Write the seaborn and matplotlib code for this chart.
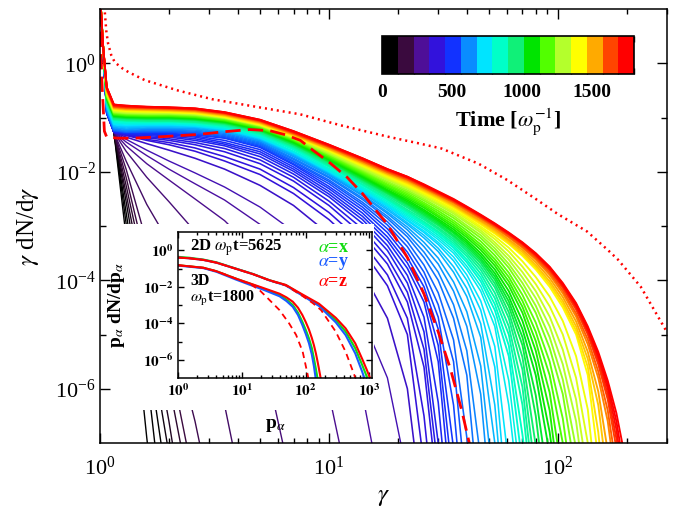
import numpy as np
import pandas as pd
import matplotlib
matplotlib.use('Agg')
import matplotlib.pyplot as plt
import seaborn as sns
from matplotlib.colors import ListedColormap, LinearSegmentedColormap, BoundaryNorm
from matplotlib.cm import ScalarMappable
from matplotlib.patches import Rectangle
from matplotlib.ticker import (LogLocator, FixedLocator, NullFormatter,
                               LogFormatterSciNotation, FuncFormatter)

# ===== STYLE =====
sns.set_theme(style="ticks")
plt.rcParams.update({
    "font.family": ["Liberation Serif", "DejaVu Serif"],
    "mathtext.fontset": "stix",
    "axes.edgecolor": "black",
    "axes.linewidth": 1.1,
    "xtick.color": "black",
    "ytick.color": "black",
    "text.color": "black",
    "axes.labelcolor": "black",
})

# ===== DATA (log10 of gamma dN/dgamma) =====
time_max = 1800
gamma_grid = [1.0, 1.03, 1.07, 1.15, 1.3, 1.6, 2.0, 2.6, 3.5, 5, 7, 10, 14, 18, 22, 26,
              30, 35, 40, 46, 53, 61, 70, 80, 92, 105, 120, 135, 150, 165, 180, 195]

early_times = [0, 30, 60, 90, 120, 145, 170, 195, 220, 245, 270, 300, 330]
early_logf = [
    [1.3, 0.2, -0.85, -1.27, -3.2, -6.9, -10.5],
    [1.3, 0.2, -0.85, -1.27, -2.95, -5.7, -9.3],
    [1.3, 0.2, -0.85, -1.27, -2.75, -5.2, -8.0],
    [1.3, 0.2, -0.85, -1.27, -2.55, -4.75, -7.2],
    [1.3, 0.2, -0.85, -1.27, -2.4, -4.35, -6.6, -9.6],
    [1.3, 0.2, -0.85, -1.27, -2.25, -4.0, -5.9, -8.4],
    [1.3, 0.2, -0.85, -1.27, -2.1, -3.7, -5.4, -7.8],
    [1.3, 0.2, -0.85, -1.27, -1.95, -3.3, -4.7, -6.6, -9.2],
    [1.3, 0.2, -0.85, -1.27, -1.8, -2.6, -3.3, -4.3, -6.3, -9.5],
    [1.3, 0.2, -0.85, -1.27, -1.62, -2.1, -2.55, -3.1, -3.85, -5.1, -7.9],
    [1.3, 0.2, -0.85, -1.27, -1.52, -1.85, -2.15, -2.5, -2.9, -3.55, -4.45, -6.1, -9.0],
    [1.3, 0.2, -0.85, -1.27, -1.45, -1.7, -1.95, -2.22, -2.52, -2.97, -3.55, -4.45, -6.1, -8.5],
    [1.3, 0.2, -0.85, -1.27, -1.4, -1.6, -1.8, -2.02, -2.28, -2.65, -3.1, -3.75, -4.7, -5.8, -7.6],
]

mid_times = [360, 390, 405, 420, 435, 450, 465, 480, 495, 510, 530, 550, 570, 590, 610,
             630, 650, 670, 692, 715, 737, 760, 790]
mid_logf = [
    [1.3, 0.3, -0.92, -1.27, -1.36, -1.48, -1.6, -1.75, -1.95, -2.25, -2.62, -3.15, -3.85, -4.7, -6.0, -8.5],
    [1.3, 0.3, -0.92, -1.27, -1.33, -1.42, -1.5, -1.62, -1.8, -2.05, -2.4, -2.88, -3.45, -4.1, -5.0, -7.4],
    [1.3, 0.3, -0.92, -1.27, -1.32, -1.4, -1.46, -1.56, -1.72, -1.95, -2.29, -2.75, -3.3, -3.9, -4.7, -6.5, -9.0],
    [1.3, 0.3, -0.92, -1.27, -1.31, -1.37, -1.42, -1.5, -1.63, -1.85, -2.17, -2.62, -3.15, -3.7, -4.4, -5.6, -8.0],
    [1.3, 0.3, -0.92, -1.27, -1.3, -1.35, -1.39, -1.46, -1.57, -1.78, -2.1, -2.54, -3.05, -3.58, -4.22, -5.27, -7.5],
    [1.3, 0.3, -0.91, -1.26, -1.3, -1.33, -1.36, -1.42, -1.52, -1.72, -2.04, -2.46, -2.95, -3.45, -4.05, -4.95, -7.0, -10.0],
    [1.3, 0.3, -0.9, -1.25, -1.29, -1.31, -1.34, -1.39, -1.49, -1.67, -1.99, -2.41, -2.88, -3.36, -3.91, -4.68, -6.25, -9.2],
    [1.3, 0.3, -0.9, -1.25, -1.29, -1.3, -1.32, -1.36, -1.46, -1.63, -1.95, -2.36, -2.82, -3.27, -3.78, -4.4, -5.5, -8.5],
    [1.3, 0.3, -0.9, -1.25, -1.28, -1.29, -1.3, -1.34, -1.42, -1.59, -1.91, -2.31, -2.76, -3.2, -3.68, -4.26, -5.2, -7.8],
    [1.3, 0.3, -0.9, -1.25, -1.28, -1.28, -1.29, -1.32, -1.38, -1.55, -1.87, -2.27, -2.7, -3.12, -3.58, -4.12, -4.9, -7.1, -10.0],
    [1.3, 0.3, -0.89, -1.24, -1.27, -1.27, -1.27, -1.3, -1.37, -1.53, -1.85, -2.22, -2.65, -3.05, -3.48, -3.98, -4.68, -6.3, -9.0],
    [1.3, 0.3, -0.89, -1.24, -1.27, -1.26, -1.26, -1.28, -1.35, -1.51, -1.82, -2.18, -2.6, -2.98, -3.38, -3.85, -4.45, -5.5, -8.0],
    [1.3, 0.3, -0.88, -1.23, -1.26, -1.25, -1.25, -1.27, -1.33, -1.49, -1.8, -2.15, -2.56, -2.92, -3.29, -3.72, -4.23, -5.1, -6.9, -9.5],
    [1.3, 0.3, -0.87, -1.22, -1.25, -1.23, -1.23, -1.25, -1.31, -1.47, -1.77, -2.11, -2.51, -2.86, -3.2, -3.58, -4.0, -4.7, -5.75, -8.5],
    [1.3, 0.3, -0.86, -1.21, -1.24, -1.22, -1.22, -1.23, -1.29, -1.45, -1.75, -2.09, -2.48, -2.82, -3.14, -3.48, -3.85, -4.45, -5.3, -7.3],
    [1.3, 0.3, -0.84, -1.19, -1.22, -1.2, -1.2, -1.21, -1.27, -1.43, -1.72, -2.06, -2.44, -2.77, -3.07, -3.38, -3.7, -4.2, -4.85, -6.1, -9.0],
    [1.3, 0.3, -0.83, -1.18, -1.21, -1.19, -1.19, -1.2, -1.26, -1.42, -1.7, -2.04, -2.42, -2.74, -3.02, -3.3, -3.59, -4.03, -4.58, -5.58, -8.0],
    [1.3, 0.3, -0.81, -1.16, -1.19, -1.17, -1.17, -1.18, -1.24, -1.4, -1.68, -2.02, -2.39, -2.7, -2.97, -3.22, -3.47, -3.85, -4.3, -5.05, -7.0, -10.0],
    [1.3, 0.3, -0.8, -1.15, -1.17, -1.16, -1.16, -1.17, -1.23, -1.39, -1.66, -2.01, -2.37, -2.67, -2.94, -3.17, -3.41, -3.75, -4.15, -4.8, -6.3, -9.2],
    [1.3, 0.3, -0.78, -1.13, -1.15, -1.14, -1.14, -1.16, -1.22, -1.38, -1.65, -2.0, -2.35, -2.64, -2.9, -3.12, -3.34, -3.64, -4.0, -4.55, -5.6, -8.5],
    [1.3, 0.3, -0.77, -1.12, -1.14, -1.13, -1.13, -1.15, -1.21, -1.37, -1.64, -1.99, -2.34, -2.62, -2.88, -3.09, -3.3, -3.57, -3.9, -4.38, -5.22, -7.4],
    [1.3, 0.3, -0.75, -1.1, -1.12, -1.12, -1.12, -1.14, -1.2, -1.36, -1.63, -1.98, -2.32, -2.6, -2.85, -3.05, -3.25, -3.5, -3.8, -4.2, -4.85, -6.3, -8.5],
    [1.3, 0.33, -0.75, -1.09, -1.11, -1.11, -1.11, -1.13, -1.19, -1.35, -1.62, -1.96, -2.3, -2.58, -2.82, -3.02, -3.21, -3.45, -3.74, -4.11, -4.7, -5.85, -7.95],
]

late_times = [820, 850, 880, 910, 940, 970, 1000, 1025, 1050, 1080, 1110, 1140, 1170, 1200,
              1230, 1260, 1290, 1320, 1350, 1380, 1410, 1445, 1480, 1520, 1560, 1600, 1640,
              1680, 1720, 1760, 1800]
late_logf = [
    [1.3, 0.35, -0.74, -1.07, -1.09, -1.09, -1.09, -1.11, -1.17, -1.33, -1.59, -1.94, -2.28, -2.55, -2.79, -2.98, -3.17, -3.40, -3.67, -4.02, -4.55, -5.4, -7.4],
    [1.3, 0.35, -0.72, -1.05, -1.07, -1.08, -1.08, -1.1, -1.16, -1.31, -1.57, -1.91, -2.25, -2.52, -2.76, -2.95, -3.13, -3.36, -3.62, -3.95, -4.44, -5.2, -6.85, -8.8],
    [1.3, 0.35, -0.71, -1.04, -1.06, -1.07, -1.07, -1.09, -1.15, -1.30, -1.55, -1.89, -2.23, -2.50, -2.73, -2.92, -3.10, -3.32, -3.56, -3.88, -4.33, -5.0, -6.3, -8.6],
    [1.3, 0.35, -0.7, -1.03, -1.05, -1.06, -1.06, -1.08, -1.13, -1.28, -1.53, -1.87, -2.2, -2.47, -2.7, -2.88, -3.06, -3.28, -3.51, -3.81, -4.23, -4.85, -5.97, -8.1],
    [1.3, 0.35, -0.69, -1.02, -1.04, -1.05, -1.05, -1.07, -1.12, -1.27, -1.52, -1.85, -2.18, -2.44, -2.66, -2.85, -3.03, -3.24, -3.46, -3.75, -4.13, -4.7, -5.65, -7.6],
    [1.3, 0.35, -0.67, -1.0, -1.02, -1.03, -1.03, -1.05, -1.11, -1.25, -1.5, -1.83, -2.16, -2.41, -2.63, -2.82, -2.99, -3.2, -3.42, -3.69, -4.06, -4.59, -5.42, -7.05, -9.0],
    [1.3, 0.35, -0.66, -0.99, -1.01, -1.02, -1.02, -1.04, -1.10, -1.24, -1.49, -1.81, -2.14, -2.39, -2.60, -2.79, -2.96, -3.17, -3.38, -3.64, -3.99, -4.48, -5.2, -6.5, -8.6],
    [1.3, 0.35, -0.65, -0.98, -1.0, -1.01, -1.01, -1.03, -1.09, -1.23, -1.47, -1.8, -2.12, -2.37, -2.58, -2.76, -2.93, -3.13, -3.34, -3.6, -3.93, -4.39, -5.05, -6.12, -7.9],
    [1.3, 0.35, -0.64, -0.97, -0.99, -1.00, -1.00, -1.02, -1.08, -1.22, -1.46, -1.78, -2.10, -2.35, -2.55, -2.73, -2.90, -3.10, -3.30, -3.55, -3.87, -4.30, -4.90, -5.75, -7.20],
    [1.3, 0.35, -0.63, -0.96, -0.98, -0.99, -0.99, -1.01, -1.07, -1.21, -1.45, -1.77, -2.08, -2.33, -2.52, -2.7, -2.87, -3.06, -3.26, -3.5, -3.8, -4.2, -4.75, -5.52, -6.8, -8.6],
    [1.3, 0.35, -0.62, -0.95, -0.97, -0.98, -0.98, -1.00, -1.06, -1.20, -1.43, -1.75, -2.06, -2.30, -2.49, -2.66, -2.83, -3.02, -3.21, -3.44, -3.73, -4.10, -4.60, -5.30, -6.40, -8.30],
    [1.3, 0.35, -0.61, -0.94, -0.96, -0.97, -0.97, -0.99, -1.05, -1.19, -1.42, -1.73, -2.04, -2.28, -2.46, -2.63, -2.8, -2.98, -3.17, -3.39, -3.67, -4.02, -4.49, -5.12, -6.07, -7.65],
    [1.3, 0.35, -0.60, -0.93, -0.95, -0.96, -0.96, -0.98, -1.04, -1.18, -1.41, -1.71, -2.02, -2.25, -2.43, -2.60, -2.76, -2.94, -3.13, -3.34, -3.61, -3.94, -4.38, -4.95, -5.75, -7.0, -9.0],
    [1.3, 0.35, -0.59, -0.92, -0.94, -0.95, -0.95, -0.97, -1.03, -1.17, -1.4, -1.7, -2.0, -2.23, -2.4, -2.57, -2.72, -2.9, -3.08, -3.28, -3.54, -3.86, -4.27, -4.78, -5.5, -6.55, -8.3],
    [1.3, 0.35, -0.58, -0.91, -0.93, -0.94, -0.94, -0.96, -1.02, -1.16, -1.39, -1.68, -1.98, -2.20, -2.37, -2.53, -2.68, -2.85, -3.03, -3.22, -3.47, -3.77, -4.15, -4.60, -5.25, -6.10, -7.60],
    [1.3, 0.35, -0.57, -0.9, -0.92, -0.93, -0.93, -0.95, -1.01, -1.15, -1.38, -1.67, -1.96, -2.18, -2.34, -2.5, -2.65, -2.81, -2.99, -3.17, -3.41, -3.7, -4.05, -4.47, -5.05, -5.83, -7.1, -8.6],
    [1.3, 0.35, -0.56, -0.89, -0.91, -0.92, -0.92, -0.94, -1.00, -1.14, -1.37, -1.65, -1.94, -2.15, -2.31, -2.47, -2.61, -2.77, -2.94, -3.12, -3.35, -3.62, -3.95, -4.33, -4.85, -5.55, -6.60, -8.20],
    [1.3, 0.35, -0.55, -0.88, -0.9, -0.91, -0.91, -0.93, -1.0, -1.14, -1.36, -1.64, -1.92, -2.13, -2.29, -2.45, -2.59, -2.74, -2.91, -3.08, -3.3, -3.55, -3.85, -4.2, -4.67, -5.28, -6.2, -7.6],
    [1.3, 0.35, -0.54, -0.87, -0.89, -0.90, -0.90, -0.92, -0.99, -1.13, -1.35, -1.62, -1.90, -2.11, -2.27, -2.42, -2.56, -2.71, -2.87, -3.04, -3.24, -3.47, -3.75, -4.07, -4.48, -5.00, -5.80, -7.00, -9.00],
    [1.3, 0.35, -0.53, -0.86, -0.88, -0.89, -0.9, -0.92, -0.99, -1.13, -1.35, -1.61, -1.89, -2.09, -2.25, -2.4, -2.54, -2.69, -2.84, -3.01, -3.19, -3.4, -3.65, -3.94, -4.3, -4.75, -5.4, -6.38, -8.15],
    [1.3, 0.35, -0.52, -0.85, -0.87, -0.88, -0.89, -0.91, -0.98, -1.12, -1.34, -1.60, -1.87, -2.07, -2.23, -2.38, -2.51, -2.66, -2.81, -2.97, -3.14, -3.33, -3.55, -3.80, -4.12, -4.50, -5.00, -5.75, -7.30],
    [1.3, 0.35, -0.51, -0.84, -0.86, -0.87, -0.88, -0.9, -0.97, -1.11, -1.33, -1.59, -1.86, -2.06, -2.21, -2.36, -2.49, -2.64, -2.79, -2.95, -3.12, -3.31, -3.52, -3.76, -4.07, -4.44, -4.93, -5.6, -6.8, -8.5],
    [1.3, 0.35, -0.50, -0.83, -0.85, -0.86, -0.87, -0.89, -0.96, -1.10, -1.32, -1.58, -1.84, -2.04, -2.19, -2.34, -2.47, -2.62, -2.77, -2.92, -3.09, -3.28, -3.48, -3.72, -4.02, -4.38, -4.85, -5.45, -6.30, -7.70],
    [1.3, 0.35, -0.49, -0.82, -0.84, -0.85, -0.86, -0.88, -0.95, -1.09, -1.31, -1.57, -1.83, -2.03, -2.17, -2.32, -2.45, -2.6, -2.75, -2.9, -3.06, -3.25, -3.44, -3.67, -3.96, -4.31, -4.76, -5.32, -6.05, -7.15, -8.5],
    [1.3, 0.35, -0.48, -0.81, -0.83, -0.84, -0.85, -0.87, -0.94, -1.08, -1.30, -1.55, -1.81, -2.01, -2.15, -2.30, -2.43, -2.57, -2.72, -2.87, -3.03, -3.21, -3.40, -3.62, -3.90, -4.24, -4.67, -5.18, -5.80, -6.60, -7.80],
    [1.3, 0.35, -0.47, -0.8, -0.82, -0.83, -0.84, -0.86, -0.93, -1.07, -1.29, -1.54, -1.8, -2.0, -2.14, -2.29, -2.42, -2.56, -2.7, -2.85, -3.01, -3.19, -3.38, -3.59, -3.86, -4.19, -4.61, -5.09, -5.68, -6.4, -7.45, -8.6],
    [1.3, 0.35, -0.46, -0.79, -0.81, -0.82, -0.83, -0.85, -0.92, -1.06, -1.28, -1.53, -1.78, -1.98, -2.12, -2.27, -2.40, -2.54, -2.68, -2.83, -2.99, -3.16, -3.35, -3.56, -3.82, -4.14, -4.54, -5.00, -5.55, -6.20, -7.10, -8.30],
    [1.3, 0.35, -0.45, -0.78, -0.8, -0.81, -0.82, -0.84, -0.91, -1.05, -1.27, -1.52, -1.77, -1.97, -2.11, -2.26, -2.39, -2.53, -2.67, -2.82, -2.98, -3.15, -3.33, -3.54, -3.8, -4.11, -4.5, -4.96, -5.48, -6.1, -6.92, -8.05],
    [1.3, 0.35, -0.45, -0.77, -0.79, -0.81, -0.82, -0.84, -0.91, -1.05, -1.26, -1.51, -1.76, -1.96, -2.10, -2.25, -2.38, -2.52, -2.66, -2.81, -2.97, -3.14, -3.32, -3.53, -3.78, -4.09, -4.47, -4.92, -5.42, -6.00, -6.75, -7.80],
    [1.3, 0.35, -0.44, -0.76, -0.78, -0.8, -0.81, -0.83, -0.9, -1.04, -1.25, -1.5, -1.75, -1.95, -2.09, -2.24, -2.37, -2.51, -2.65, -2.8, -2.96, -3.13, -3.31, -3.51, -3.76, -4.07, -4.44, -4.88, -5.37, -5.92, -6.6, -7.5],
    [1.3, 0.35, -0.44, -0.76, -0.78, -0.80, -0.81, -0.83, -0.90, -1.04, -1.25, -1.50, -1.75, -1.95, -2.09, -2.23, -2.36, -2.50, -2.64, -2.79, -2.95, -3.12, -3.30, -3.50, -3.75, -4.05, -4.42, -4.85, -5.32, -5.85, -6.45, -7.20],
]

dashed_gamma = [1.0, 1.017, 1.045, 1.07, 1.2, 1.4, 1.9, 2.7, 3.5, 4.5, 5.5, 6.5, 7.5, 8.5,
                10, 12, 14, 18, 22, 26, 30, 34, 38, 41, 43]
dashed_logf = [1.0, -0.25, -1.25, -1.36, -1.38, -1.38, -1.35, -1.31, -1.26, -1.22, -1.24, -1.32,
               -1.42, -1.6, -1.82, -2.1, -2.4, -2.97, -3.58, -4.25, -4.95, -5.65, -6.4, -7.0, -7.4]

dotted_gamma = [1.045, 1.065, 1.084, 1.12, 1.16, 1.25, 1.33, 1.57, 2.19, 3.08, 4.5, 7.5, 11.2,
                18, 25, 31, 45, 60, 80, 100, 134, 165, 183, 230, 296]
dotted_logf = [1.05, 0.6, 0.37, 0.15, 0.02, -0.09, -0.16, -0.31, -0.50, -0.66, -0.78, -0.94, -1.14,
               -1.35, -1.48, -1.57, -1.85, -2.15, -2.5, -2.78, -3.1, -3.44, -3.62, -4.12, -4.92]

# inset: momentum spectra p dN/dp (log10)
p2d = [1, 1.5, 2.5, 4, 8, 15, 27, 49, 89, 162, 297, 424, 600, 770, 910, 1050]
p2d_x = [-0.36, -0.41, -0.51, -0.66, -1.00, -1.30, -1.64, -1.91, -2.46, -3.00, -3.83, -4.46, -5.37, -6.28, -6.92, -7.60]
p2d_y = [-0.40, -0.44, -0.53, -0.68, -1.01, -1.31, -1.65, -1.93, -2.48, -3.05, -3.95, -4.65, -5.65, -6.65, -7.40]
p2d_z = [-0.40, -0.44, -0.53, -0.68, -1.01, -1.31, -1.64, -1.90, -2.42, -2.93, -3.70, -4.28, -5.10, -5.95, -6.55, -7.10]
p2d_dash = [1, 1.5, 2.5, 4, 8, 15, 27, 49, 89, 130, 175, 297, 424, 580, 640]
p2d_z_dash = [-0.40, -0.44, -0.53, -0.68, -1.01, -1.31, -1.65, -1.93, -2.50, -2.90, -3.28, -4.46, -5.56, -6.83, -7.40]

p3d = [1, 2.5, 4, 8, 14, 21, 30, 39, 50, 63, 76, 89, 101, 113, 125, 135, 145, 152, 160, 172, 186]
p3d_x = [-0.82, -0.96, -1.15, -1.55, -1.85, -2.09, -2.30, -2.46, -2.70, -3.00, -3.42, -3.92, -4.38, -4.83, -5.35, -5.92, -6.50, -6.92, -7.50]
p3d_y = [-0.84, -0.98, -1.18, -1.60, -1.92, -2.14, -2.36, -2.52, -2.78, -3.10, -3.55, -4.10, -4.60, -5.10, -5.70, -6.35, -7.10]
p3d_z = [-0.82, -0.96, -1.15, -1.55, -1.84, -2.05, -2.24, -2.38, -2.58, -2.82, -3.15, -3.55, -3.95, -4.35, -4.80, -5.20, -5.65, -6.00, -6.40, -7.00, -7.60]
p3d_dash = [1, 2.5, 4, 8, 14, 19, 25, 39, 55, 71, 90, 108, 115]
p3d_z_dash = [-0.82, -0.96, -1.15, -1.55, -1.88, -2.19, -2.60, -3.28, -4.00, -4.64, -5.56, -6.83, -7.40]

# ===== COLOURS =====
cb_colors = ['#000000', '#3a0a3e', '#4e0f98', '#3212dc', '#1232ff', '#0a8cff', '#00e4ff', '#00ffc8',
             '#10f078', '#00e400', '#52ff00', '#b4ff2c', '#ffff00', '#ffaa00', '#ff4400', '#ff0000']
n_bins = len(cb_colors)
anchor_pos = [0.0] + [(k + 0.5) / n_bins for k in range(n_bins)] + [1.0]
anchor_col = [cb_colors[0]] + cb_colors + [cb_colors[-1]]
line_cmap = LinearSegmentedColormap.from_list('idl_rainbow', list(zip(anchor_pos, anchor_col)))
col_x, col_y, col_z = '#10dd10', '#1a5cff', '#ff0000'


def spectra_frame(times, rows):
    recs = []
    for t, row in zip(times, rows):
        for g, lf in zip(gamma_grid, row):
            recs.append({'time': t, 'gamma': g, 'f': 10.0 ** lf})
    return pd.DataFrame(recs)


def curve_frame(xs, logs):
    return pd.DataFrame({'x': xs[:len(logs)], 'f': [10.0 ** v for v in logs]})


def setup_log_axes(a, maj_len, min_len, fs, padx, pady, fmt):
    a.set_xscale('log')
    a.set_yscale('log')
    a.xaxis.set_major_locator(LogLocator(base=10, numticks=12))
    a.xaxis.set_minor_locator(LogLocator(base=10, subs=np.arange(2, 10), numticks=12))
    a.yaxis.set_major_locator(FixedLocator([1e-6, 1e-4, 1e-2, 1e0]))
    a.yaxis.set_minor_locator(FixedLocator([1e-5, 1e-3, 1e-1]))
    a.xaxis.set_major_formatter(fmt)
    a.yaxis.set_major_formatter(fmt)
    a.xaxis.set_minor_formatter(NullFormatter())
    a.yaxis.set_minor_formatter(NullFormatter())
    a.tick_params(which='both', direction='in', top=True, right=True, width=1.0, color='black')
    a.tick_params(which='major', length=maj_len, labelsize=fs)
    a.tick_params(axis='x', which='minor', length=min_len)
    a.tick_params(axis='y', which='minor', length=min_len * 1.3)
    a.tick_params(axis='x', pad=padx)
    a.tick_params(axis='y', pad=pady)


# ===== FIGURE =====
fig = plt.figure(figsize=(6.85, 5.08), dpi=100)
ax = fig.add_axes([0.146, 0.128, 0.828, 0.854])
ax.set_xscale('log')
ax.set_yscale('log')

for times, rows, lw in [(early_times, early_logf, 1.0),
                        (mid_times, mid_logf, 1.15),
                        (late_times, late_logf, 1.35)]:
    sns.lineplot(data=spectra_frame(times, rows), x='gamma', y='f', hue='time', units='time',
                 estimator=None, palette=line_cmap, hue_norm=(0, time_max), legend=False,
                 linewidth=lw, sort=False, ax=ax)

sns.lineplot(data=curve_frame(dashed_gamma, dashed_logf), x='x', y='f', color='#ff0000',
             linewidth=2.0, sort=False, estimator=None, ax=ax)
ax.lines[-1].set_dashes((5.5, 2.6))
sns.lineplot(data=curve_frame(dotted_gamma, dotted_logf), x='x', y='f', color='#ff0000',
             linewidth=1.8, sort=False, estimator=None, ax=ax)
ax.lines[-1].set_linestyle((0, (0.8, 1.6)))

setup_log_axes(ax, 7, 3.5, 16, 10, 3, LogFormatterSciNotation())
ax.set_xlim(1, 300)
ax.set_ylim(1e-7, 10)
ax.set_xlabel(r'$\gamma$', fontsize=18, labelpad=4)
ax.set_ylabel(r'$\gamma$ dN/d$\gamma$', fontsize=18, labelpad=10)

# white backing behind the inset and its tick labels
fig.add_artist(Rectangle((0.1620, 0.1929), 0.3839, 0.3661, transform=fig.transFigure,
                         facecolor='white', edgecolor='none', zorder=1))

# ===== INSET =====
axi = fig.add_axes([0.2599, 0.2559, 0.2832, 0.2874])
axi.set_zorder(2)
bold_fmt = FuncFormatter(lambda v, pos: r'$\mathbf{10^{%d}}$' % int(round(np.log10(v))))
axi.set_xscale('log')
axi.set_yscale('log')
for xs, logs, c in [(p2d, p2d_x, col_x), (p2d, p2d_y, col_y), (p2d, p2d_z, col_z),
                    (p3d, p3d_x, col_x), (p3d, p3d_y, col_y), (p3d, p3d_z, col_z)]:
    sns.lineplot(data=curve_frame(xs, logs), x='x', y='f', color=c, linewidth=1.5,
                 sort=False, estimator=None, ax=axi)
for xs, logs in [(p2d_dash, p2d_z_dash), (p3d_dash, p3d_z_dash)]:
    sns.lineplot(data=curve_frame(xs, logs), x='x', y='f', color=col_z, linewidth=1.3,
                 sort=False, estimator=None, ax=axi)
    axi.lines[-1].set_dashes((3.5, 2.5))

setup_log_axes(axi, 4, 2, 11, 3, 3, bold_fmt)
axi.set_xlim(1, 1100)
axi.set_ylim(1e-7, 10)
axi.set_xlabel(r'p$_{\alpha}$', fontsize=14, fontweight='bold', labelpad=13)
axi.set_ylabel(r'p$_{\alpha}$ dN/dp$_{\alpha}$', fontsize=14, fontweight='bold', labelpad=12)

axi.text(0.062, 0.89, r'2D $\omega_{\rm p}$t=5625', transform=axi.transAxes, fontsize=12,
         fontweight='bold', va='center', ha='left')
axi.text(0.062, 0.665, '3D', transform=axi.transAxes, fontsize=11.5,
         fontweight='bold', va='center', ha='left')
axi.text(0.062, 0.545, r'$\omega_{\rm p}$t=1800', transform=axi.transAxes, fontsize=11.5,
         fontweight='bold', va='center', ha='left')
for yy, lab, c in [(0.897, 'x', col_x), (0.781, 'y', col_y), (0.658, 'z', col_z)]:
    axi.text(0.72, yy, r'$\alpha$=' + lab, transform=axi.transAxes, fontsize=13,
             fontweight='bold', color=c, va='center', ha='left')

# ===== COLORBAR =====
bounds = np.linspace(0, time_max, n_bins + 1)
cax = fig.add_axes([0.5577, 0.8543, 0.3679, 0.0748])
sm = ScalarMappable(norm=BoundaryNorm(bounds, n_bins), cmap=ListedColormap(cb_colors))
cb = fig.colorbar(sm, cax=cax, orientation='horizontal')
cb.outline.set_linewidth(1.2)
cb.set_ticks([0, 500, 1000, 1500])
cax.set_xticklabels(['0', '500', '1000', '1500'], fontweight='bold', fontsize=14)
cax.xaxis.set_minor_locator(FixedLocator(bounds))
cax.tick_params(which='major', length=0, pad=7)
cax.tick_params(which='minor', direction='in', length=4, width=1, top=True, bottom=True,
                color='black')
cb.set_label(r'Time [$\omega_{\rm p}^{-1}$]', fontsize=16, fontweight='bold', labelpad=4)

fig.savefig('out.png', dpi=100)
plt.close(fig)
